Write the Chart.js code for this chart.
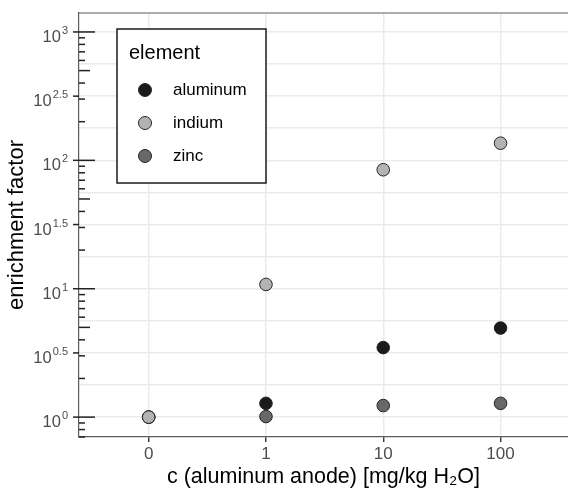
<!DOCTYPE html>
<html>
<head>
<meta charset="utf-8">
<script src="https://cdn.jsdelivr.net/npm/chart.js@4.4.1/dist/chart.umd.min.js"></script>
<style>
  body { margin: 0; background: #fff; }
  canvas { display: block; }
</style>
</head>
<body>
<canvas id="enrichment" width="568" height="490"></canvas>
<script>
// data
const concentrations = ['0', '1', '10', '100']
const elements = ['aluminum', 'indium', 'zinc']
const aluminum = [1.0, 1.28, 3.48, 4.94]
const indium = [1.0, 10.8, 84.5, 136]
const zinc = [1.0, 1.01, 1.23, 1.28]
const labelExponents = [0, 0.5, 1, 1.5, 2, 2.5, 3]

const series = [aluminum, indium, zinc]
const fills = ['#1a1a1a', '#b3b3b3', '#686868']
const drawOrder = [2, 0, 1]   // indium on top, then zinc
const family = "'Liberation Sans', Arial, sans-serif"
const axisColor = '#5c5c5c'
const tickColor = '#222'

// gridlines every quarter decade
const gridExponents = []
labelExponents.forEach(e => {
    gridExponents.push(e)
    if (e < 3) gridExponents.push(e + 0.25)
})

const decorations = {
    id: 'decorations',
    afterDraw(chart) {
        const { ctx, chartArea: area, scales: { y } } = chart
        ctx.save()

        // top border of the panel
        ctx.strokeStyle = axisColor
        ctx.lineWidth = 1.2
        ctx.beginPath()
        ctx.moveTo(area.left, area.top)
        ctx.lineTo(area.right, area.top)
        ctx.stroke()

        // log ticks along the y axis
        ctx.strokeStyle = tickColor
        ctx.lineWidth = 1.5
        for (let n = -1; n <= 3; n++) {
            for (let k = 1; k <= 9; k++) {
                const v = k * Math.pow(10, n)
                if (v < y.min || v > y.max) continue
                const py = y.getPixelForValue(v)
                const len = k == 1 ? 16 : k == 5 ? 11 : 6
                ctx.beginPath()
                ctx.moveTo(area.left, py)
                ctx.lineTo(area.left + len, py)
                ctx.stroke()
            }
        }

        // y tick labels 10^e
        labelExponents.forEach(e => {
            const py = y.getPixelForValue(Math.pow(10, e))
            ctx.strokeStyle = tickColor
            ctx.beginPath()
            ctx.moveTo(area.left - 6, py)
            ctx.lineTo(area.left, py)
            ctx.stroke()

            const exp = String(e)
            ctx.fillStyle = '#4d4d4d'
            ctx.textAlign = 'left'
            ctx.textBaseline = 'alphabetic'
            ctx.font = `11px ${family}`
            const ew = ctx.measureText(exp).width
            ctx.font = `16.5px ${family}`
            const bw = ctx.measureText('10').width
            const right = area.left - 11
            ctx.fillText('10', right - ew - bw - 1, py + 10)
            ctx.font = `11px ${family}`
            ctx.fillText(exp, right - ew, py + 2)
        })

        // legend box
        const lx = area.left + 38, ly = area.top + 16
        ctx.fillStyle = '#fff'
        ctx.fillRect(lx, ly, 149, 154)
        ctx.strokeStyle = '#1a1a1a'
        ctx.lineWidth = 1.5
        ctx.strokeRect(lx, ly, 149, 154)

        ctx.fillStyle = '#000'
        ctx.font = `20px ${family}`
        ctx.textBaseline = 'alphabetic'
        ctx.fillText('element', lx + 12, ly + 30)

        elements.forEach((name, i) => {
            const cy = ly + 61 + i * 33
            ctx.beginPath()
            ctx.arc(lx + 28, cy, 6.5, 0, Math.PI * 2)
            ctx.fillStyle = fills[i]
            ctx.fill()
            ctx.lineWidth = 1
            ctx.strokeStyle = '#262626'
            ctx.stroke()
            ctx.fillStyle = '#000'
            ctx.font = `17px ${family}`
            ctx.textBaseline = 'middle'
            ctx.fillText(name, lx + 56, cy)
        })

        ctx.restore()
    }
}

const ctx = document.getElementById('enrichment')
new Chart(ctx, {
    type: 'scatter',
    data: {
        datasets: elements.map((name, i) => ({
            label: name,
            data: series[i].map((v, j) => ({ x: j, y: v })),
            backgroundColor: fills[i],
            borderColor: '#262626',
            borderWidth: 1,
            pointRadius: 6.3,
            pointHoverRadius: 6.3,
            order: drawOrder[i]
        }))
    },
    options: {
        responsive: false,
        animation: false,
        layout: { autoPadding: false, padding: { left: 0, right: 0, top: 13, bottom: 0 } },
        plugins: {
            legend: { display: false },
            tooltip: { enabled: false }
        },
        scales: {
            x: {
                type: 'linear',
                min: -0.594,
                max: 3.575,
                afterBuildTicks: s => { s.ticks = concentrations.map((c, i) => ({ value: i })) },
                afterFit: s => {
                    s.height = 53
                    s.paddingLeft = 0
                    s.paddingRight = 0
                },
                ticks: {
                    callback: v => concentrations[v],
                    color: '#4d4d4d',
                    font: { family: family, size: 17 },
                    padding: 2,
                    maxRotation: 0,
                    autoSkip: false
                },
                grid: { color: '#ebebeb', lineWidth: 1.5, tickColor: tickColor, tickWidth: 1.3, tickLength: 5 },
                border: { color: axisColor, width: 1.2 },
                title: {
                    display: true,
                    text: 'c (aluminum anode) [mg/kg H₂O]',
                    color: '#000',
                    font: { family: family, size: 21.5 },
                    padding: { top: 0, bottom: 0 }
                }
            },
            y: {
                type: 'logarithmic',
                min: Math.pow(10, -0.1476),
                max: Math.pow(10, 3.1476),
                afterBuildTicks: s => { s.ticks = gridExponents.map(e => ({ value: Math.pow(10, e) })) },
                afterFit: s => { s.width = 79 },
                ticks: { display: false },
                grid: { color: '#ebebeb', lineWidth: 1.5, drawTicks: false },
                border: { color: axisColor, width: 1.2 },
                title: {
                    display: true,
                    text: 'enrichment factor',
                    color: '#000',
                    font: { family: family, size: 22 },
                    padding: { top: 4, bottom: 0 }
                }
            }
        }
    },
    plugins: [decorations]
})
</script>
</body>
</html>
